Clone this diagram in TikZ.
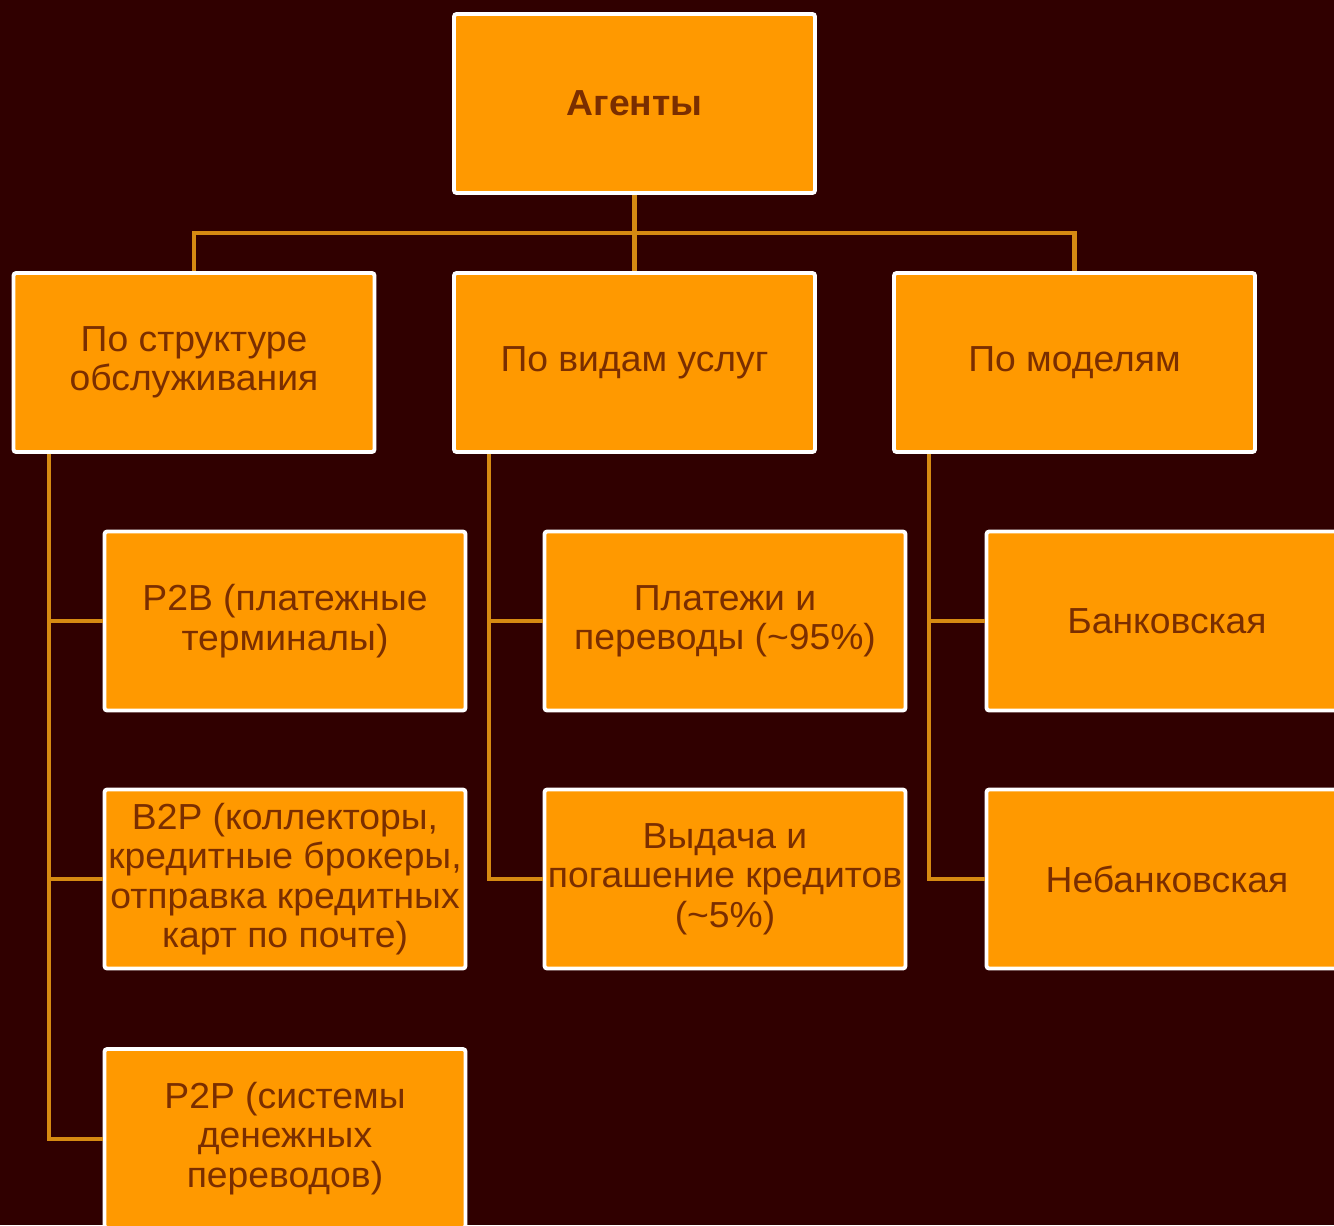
\documentclass[tikz,border=0pt]{standalone}
\usepackage{fontspec}
\setmainfont[FakeStretch=1.03]{Liberation Sans}
\definecolor{bgmaroon}{HTML}{300000}
\definecolor{boxorange}{HTML}{FF9900}
\definecolor{textbrown}{HTML}{7A2E00}
\definecolor{linkorange}{HTML}{D58A12}
\begin{document}
\begin{tikzpicture}[
    box/.style={draw=white, line width=2.2pt, fill=boxorange, rounded corners=1.5pt,
        minimum width=7.22cm, minimum height=3.58cm, inner xsep=0pt, align=center,
        text=textbrown, font=\fontsize{20.6}{22.4}\selectfont},
    link/.style={draw=linkorange, line width=2.3pt}
]
    % Background
    \clip (0,0) rectangle (26.68,-24.5);
    \fill[bgmaroon] (0,0) rectangle (26.68,-24.5);

    % Root
    \node[box] (agents) at (12.69,-2.07) {\bfseries Агенты};

    % Level 1
    \node[box] (bystruct) at (3.88,-7.25) {По структуре\\обслуживания};
    \node[box] (byservice) at (12.69,-7.25) {По видам услуг};
    \node[box] (bymodel) at (21.49,-7.25) {По моделям};

    % Structure branch
    \node[box] (ptb) at (5.70,-12.42) {P2B (платежные\\терминалы)};
    \node[box] (btp) at (5.70,-17.58) {B2P (коллекторы,\\кредитные брокеры,\\отправка кредитных\\карт по почте)};
    \node[box] (ptp) at (5.70,-22.77) {P2P (системы\\денежных\\переводов)};

    % Service branch
    \node[box] (pay) at (14.50,-12.42) {Платежи и\\переводы (\textasciitilde95\%)};
    \node[box] (credit) at (14.50,-17.58) {Выдача и\\погашение кредитов\\(\textasciitilde5\%)};

    % Model branch
    \node[box] (bank) at (23.34,-12.42) {Банковская};
    \node[box] (nonbank) at (23.34,-17.58) {Небанковская};

    % Links from root
    \coordinate (bar) at (12.69,-4.66);
    \draw[link] (agents.south) -- (bar);
    \draw[link] (bystruct.north) |- (bar) -| (bymodel.north);
    \draw[link] (bar) -- (byservice.north);

    % Rails
    \coordinate (railA) at ([xshift=0.74cm]bystruct.south west);
    \coordinate (railB) at ([xshift=0.74cm]byservice.south west);
    \coordinate (railC) at ([xshift=0.74cm]bymodel.south west);
    \draw[link] (railA) |- (ptp.west);
    \draw[link] (railA) |- (ptb.west);
    \draw[link] (railA) |- (btp.west);
    \draw[link] (railB) |- (credit.west);
    \draw[link] (railB) |- (pay.west);
    \draw[link] (railC) |- (nonbank.west);
    \draw[link] (railC) |- (bank.west);
\end{tikzpicture}
\end{document}
